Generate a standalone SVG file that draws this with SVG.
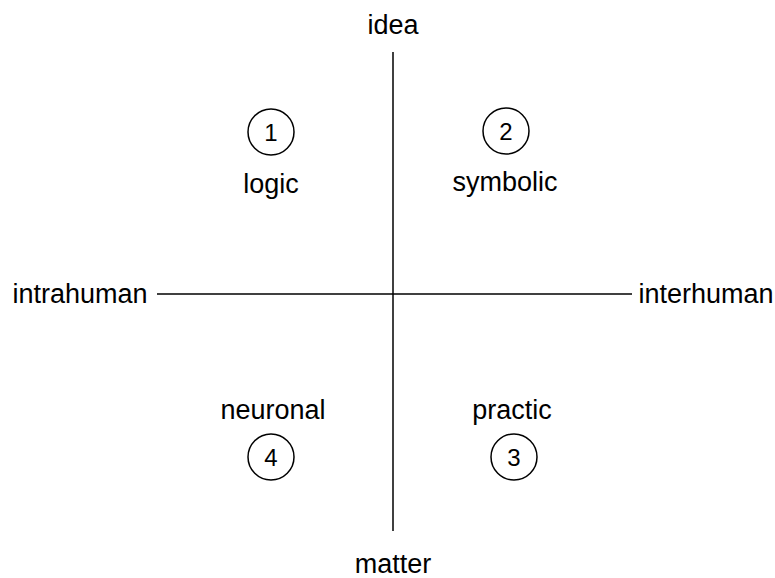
<svg xmlns="http://www.w3.org/2000/svg" width="775" height="578" viewBox="0 0 775 578">
<style>
text{font-family:"Liberation Sans",Arial,sans-serif;font-size:27px;fill:#000;text-anchor:middle}
.n{font-size:24px}
line,circle{stroke:#000;stroke-width:1.5;fill:none}
</style>
<rect width="775" height="578" fill="#fff"/>
<g id="axes">
<line x1="393" y1="52" x2="393" y2="531"/>
<line x1="157" y1="294" x2="632" y2="294"/>
</g>
<g id="idea"><text x="393" y="34">idea</text></g>
<g id="matter"><text x="393" y="573">matter</text></g>
<g id="intrahuman"><text x="80" y="303">intrahuman</text></g>
<g id="interhuman"><text x="706" y="303">interhuman</text></g>
<g id="q1"><circle cx="271" cy="132" r="23"/><text class="n" x="271" y="141">1</text><text x="271" y="193">logic</text></g>
<g id="q2"><circle cx="506" cy="131" r="23"/><text class="n" x="506" y="140">2</text><text x="505" y="191">symbolic</text></g>
<g id="q4"><circle cx="271" cy="457" r="23"/><text class="n" x="271" y="466">4</text><text x="273" y="419">neuronal</text></g>
<g id="q3"><circle cx="514" cy="457" r="23"/><text class="n" x="514" y="466">3</text><text x="512" y="419">practic</text></g>
</svg>
